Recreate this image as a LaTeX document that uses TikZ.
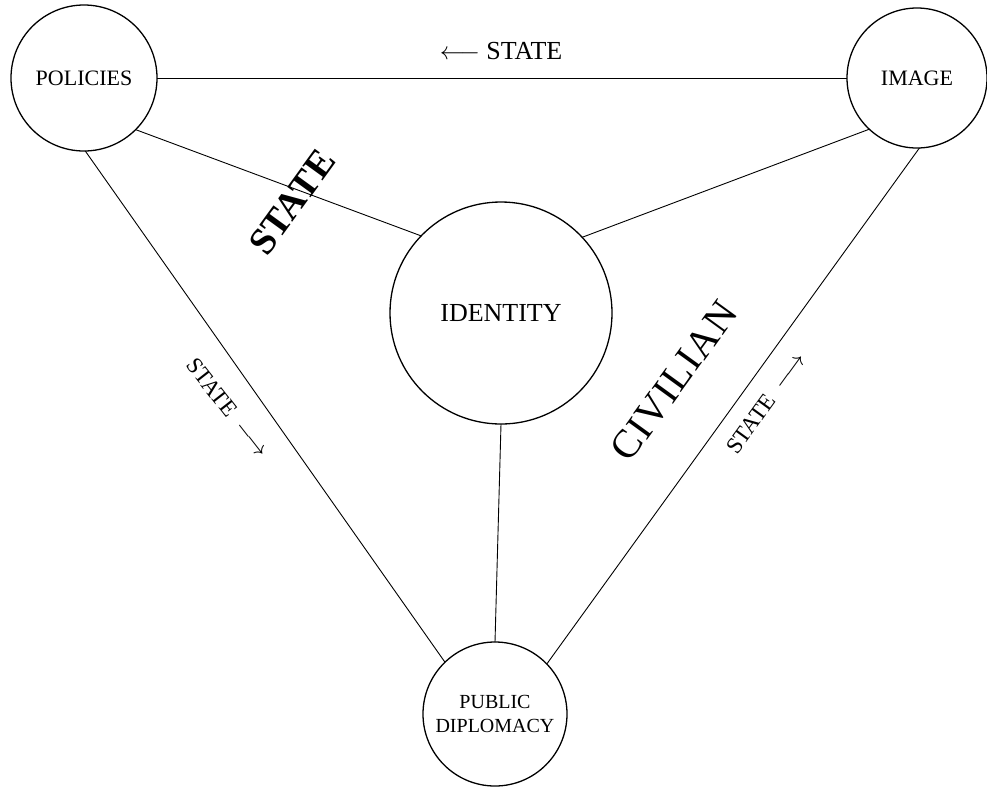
\documentclass[tikz,border=0pt]{standalone}
\usepackage{fontspec}
\setmainfont{Liberation Serif}
\begin{document}
\begin{tikzpicture}[x=1pt,y=-1pt,
  hub/.style={circle,draw,line width=1.3pt,inner sep=0pt,outer sep=0pt,align=center},
  link/.style={line width=0.9pt},
  tag/.style={inner sep=0pt,outer sep=0pt}]
\useasboundingbox (0,0) rectangle (987,788);
% the four concept circles
\node[hub,minimum size=146pt,font=\fontsize{22}{26}\selectfont] (pol) at (84,78) {POLICIES};
\node[hub,minimum size=140pt,font=\fontsize{22}{26}\selectfont] (img) at (917,78) {IMAGE};
\node[hub,minimum size=222pt,font=\fontsize{26}{30}\selectfont] (idn) at (501,313) {IDENTITY};
\node[hub,minimum size=144pt,font=\fontsize{20}{24}\selectfont] (pd) at (495,714) {PUBLIC\\DIPLOMACY};
% connecting lines
\draw[link] (pol.east) -- (img.west);
\draw[link] (pol.-45) -- (idn.136);
\draw[link] (idn.43) -- (img.227);
\draw[link] (pol.-89) -- (pd.134);
\draw[link] (img.-88) -- (pd.44);
\draw[link] (idn.-90) -- (pd.90);
% edge labels
\node[tag,font=\fontsize{26}{30}\selectfont] (topstate) at (501,51) {$\longleftarrow$\ STATE};
\node[tag,font=\bfseries\fontsize{38}{44}\selectfont,rotate=54] (bigstate) at (292,202) {STATE};
\node[tag,font=\fontsize{40}{44}\selectfont\addfontfeature{LetterSpace=3},rotate=54] (civ) at (674,381) {CIVILIAN};
\node[tag,font=\fontsize{23}{26}\selectfont,rotate=-52] (lstate) at (228,408) {STATE\hspace{0.5em}$\longrightarrow$};
\node[tag,font=\fontsize{23}{26}\selectfont,rotate=54] (rstate) at (766,403) {STATE\hspace{0.5em}$\longrightarrow$};
\end{tikzpicture}
\end{document}
